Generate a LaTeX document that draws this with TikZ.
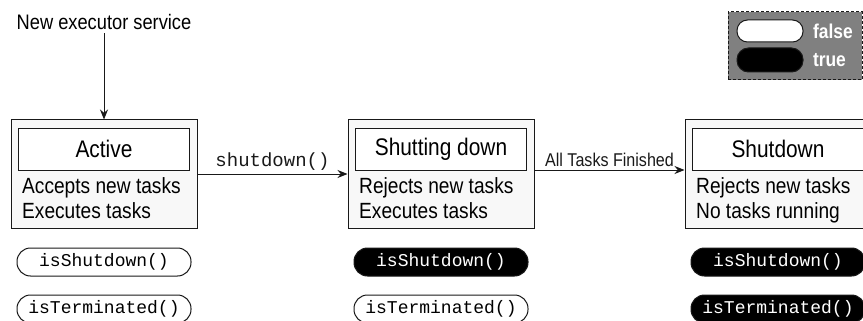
\documentclass[tikz,border=0pt]{standalone}
\usepackage{fontspec}
\setmainfont{Liberation Sans}[FakeStretch=0.87]
\setmonofont{Liberation Mono}
\usetikzlibrary{positioning,arrows.meta}
\definecolor{Paper}{RGB}{248,248,248}
\definecolor{Legend}{RGB}{128,128,128}
\definecolor{Ink}{RGB}{25,25,25}

\begin{document}
\begin{tikzpicture}[x=1pt,y=-1pt,node distance=8pt,
 st/.style={draw=Ink,fill=Paper,minimum width=186pt,minimum height=108pt,line width=1pt},
 ttl/.style={draw=Ink,fill=white,minimum width=171pt,minimum height=42pt,line width=1pt,font=\fontsize{24}{28}\selectfont},
 txt/.style={align=left,inner sep=0pt,font=\fontsize{22}{25}\selectfont},
 pw/.style={draw=Ink,fill=white,rounded corners=13.5pt,minimum width=174pt,minimum height=28pt,inner sep=0pt,line width=1pt,font=\ttfamily\fontsize{18}{20}\selectfont},
 pb/.style={pw,fill=black,text=white},
 a/.style={-{Stealth[length=10pt,width=8pt]},line width=1pt,Ink}]
\useasboundingbox (0,0) rectangle (863,321);
% states
\node[st] (act) at (104,174) {};
\node[st] (sd) at (441,174) {};
\node[st] (sdn) at (778,174) {};
\node[ttl,below=8pt of act.north] (actT) {Active};
\node[ttl,below=8pt of sd.north] (sdT) {Shutting down};
\node[ttl,below=8pt of sdn.north] (sdnT) {Shutdown};
\node[txt,below right=7pt and 4pt of actT.south west] (actX) {Accepts new tasks\\Executes tasks};
\node[txt,below right=7pt and 4pt of sdT.south west] (sdX) {Rejects new tasks\\Executes tasks};
\node[txt,below right=7pt and 4pt of sdnT.south west] (sdnX) {Rejects new tasks\\No tasks running};
% transitions
\node[font=\fontsize{21}{24}\selectfont] (new) at (104,22) {New executor service};
\draw[a] (new) -- (act);
\draw[a] (act) -- node[above=1pt,inner sep=2pt,font=\ttfamily\fontsize{19}{21}\selectfont] {shutdown()} (sd);
\draw[a] ([yshift=4pt]sd.east) -- node[above=1pt,inner sep=2pt,font=\fontsize{18.5}{20}\selectfont] {All Tasks Finished} ([yshift=4pt]sdn.west);
% flags
\node[pw,below=19pt of act] (actS) {isShutdown()};
\node[pw,below=18pt of actS] (actR) {isTerminated()};
\node[pb,below=19pt of sd] (sdS) {isShutdown()};
\node[pw,below=18pt of sdS] (sdR) {isTerminated()};
\node[pb,below=19pt of sdn] (sdnS) {isShutdown()};
\node[pb,below=18pt of sdnS] (sdnR) {isTerminated()};
% legend
\node[draw=Ink,line width=1pt,dash pattern=on 3pt off 2pt,fill=Legend,minimum width=134pt,minimum height=68pt] (lgd) at (795,46) {};
\node[pw,minimum width=66pt,minimum height=22pt,rounded corners=10.5pt] (lgdF) at (770,31) {};
\node[pb,minimum width=66pt,minimum height=24pt,rounded corners=11.5pt] (lgdT) at (770,60) {};
\node[right=6pt of lgdF,text=white,font=\bfseries\fontsize{20}{22}\selectfont] {false};
\node[right=6pt of lgdT,text=white,font=\bfseries\fontsize{20}{22}\selectfont] {true};
\end{tikzpicture}
\end{document}
